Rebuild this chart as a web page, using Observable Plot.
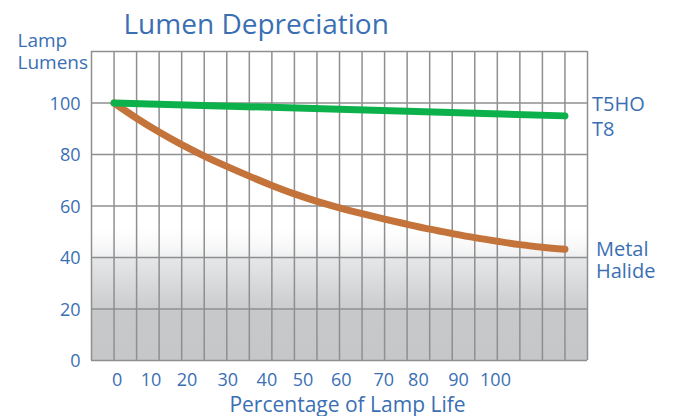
<!DOCTYPE html>
<html>
<head>
<meta charset="utf-8">
<script src="https://cdn.jsdelivr.net/npm/d3@7"></script>
<script src="https://cdn.jsdelivr.net/npm/@observablehq/plot@0.6"></script>
<style>
  html, body { margin: 0; padding: 0; background: #fff; }
  #chart svg { display: block; }
</style>
</head>
<body>
<div id="chart"></div>
<script>
// Percentage of rated lamp life (x) and remaining lumen output (y, % of initial)
const lifePct = [0, 5, 10, 15, 20, 25, 30, 35, 40, 45, 50, 55, 60, 65, 70, 75, 80, 85, 90, 95, 100];
const metalHalide = [100, 94.1, 88.7, 83.8, 79.4, 75.4, 71.6, 68.0, 64.7, 61.8, 59.3, 57.0, 54.9, 52.9, 51.0, 49.3, 47.7, 46.3, 45.0, 44.0, 43.2];

const fluorescentPct = [0, 50, 100];
const fluorescent = [100, 97.6, 95];

// Axis ticks and the labels printed under the x axis
const yTicks = [0, 20, 40, 60, 80, 100];
const xTickAt = [0.7, 8.2, 16.2, 25.2, 33.9, 41.9, 50.4, 59.8, 67.5, 76.4, 84.6];
const xTickText = ["0", "10", "20", "30", "40", "50", "60", "70", "80", "90", "100"];

const seriesNames = ["T5HO\nT8", "Metal\nHalide"];

const blue = "#3a6fb4";
const green = "#0db14b";
const orange = "#c4743b";
const gridColor = "#8f8f8f";

const xDomain = [-5, 105];
const yDomain = [0, 120];
const gridStepX = 5;
const gridStepY = 20;

const mh = lifePct.map((x, i) => ({x, y: metalHalide[i]}));
const fl = fluorescentPct.map((x, i) => ({x, y: fluorescent[i]}));

const chart = Plot.plot({
  width: 675,
  height: 416,
  marginLeft: 91,
  marginRight: 88,
  marginTop: 51,
  marginBottom: 56,
  style: {fontFamily: "'Open Sans', sans-serif", background: "#fff", overflow: "visible"},
  x: {domain: xDomain, axis: null},
  y: {domain: yDomain, axis: null},
  marks: [
    Plot.frame({fill: "url(#shade)", stroke: null}),
    Plot.ruleX(d3.range(xDomain[0], xDomain[1] + 1, gridStepX), {stroke: gridColor, strokeWidth: 1.5}),
    Plot.ruleY(d3.range(yDomain[0], yDomain[1] + 1, gridStepY), {stroke: gridColor, strokeWidth: 1.5}),
    // y tick labels
    Plot.text(yTicks, {
      y: d => d, text: d => String(d), frameAnchor: "left", textAnchor: "end",
      lineAnchor: "bottom", dx: -11, dy: 6.5, fontSize: 18, fill: blue
    }),
    // x tick labels
    Plot.text(xTickAt, {
      x: d => d, text: (d, i) => xTickText[i], frameAnchor: "bottom",
      lineAnchor: "bottom", dy: 25, fontSize: 18, fill: blue
    }),
    // series
    Plot.line(mh, {x: "x", y: "y", stroke: orange, strokeWidth: 7, strokeLinecap: "round", strokeLinejoin: "round", curve: "catmull-rom"}),
    Plot.line(fl, {x: "x", y: "y", stroke: green, strokeWidth: 7, strokeLinecap: "round", strokeLinejoin: "round"}),
    // series labels at the line ends
    Plot.text([fl[fl.length - 1]], {
      x: "x", y: "y", text: () => seriesNames[0], textAnchor: "start",
      dx: 27, dy: -0.2, lineHeight: 1.25, fontSize: 20, fill: blue
    }),
    Plot.text([mh[mh.length - 1]], {
      x: "x", y: "y", text: () => seriesNames[1], textAnchor: "start",
      dx: 31, dy: 10.3, lineHeight: 1.12, fontSize: 20, fill: blue
    }),
    // title and axis titles
    Plot.text(["Lumen Depreciation"], {
      frameAnchor: "top-left", textAnchor: "start", lineAnchor: "bottom",
      dx: 32, dy: -18, fontSize: 28, fill: blue
    }),
    Plot.text(["Lamp\nLumens"], {
      frameAnchor: "top-left", textAnchor: "start", lineAnchor: "bottom",
      dx: -74, dy: 17, lineHeight: 1.12, fontSize: 19, fill: blue
    }),
    Plot.text(["Percentage of Lamp Life"], {
      frameAnchor: "bottom", lineAnchor: "bottom",
      dx: 8, dy: 51, fontSize: 21, fill: blue
    })
  ]
});

// Soft grey fade across the lower part of the plot area
const defs = d3.select(chart).insert("defs", ":first-child");
const grad = defs.append("linearGradient")
  .attr("id", "shade").attr("x1", 0).attr("y1", 0).attr("x2", 0).attr("y2", 1);
[
  [0, "#ffffff"], [0.57, "#ffffff"], [0.63, "#f8f8f9"], [0.665, "#eeeff0"],
  [0.668, "#e6e7e9"], [0.835, "#cbccce"], [0.84, "#c7c8ca"], [1, "#c6c7c9"]
].forEach(([o, c]) => grad.append("stop").attr("offset", o).attr("stop-color", c));

document.getElementById("chart").appendChild(chart);
</script>
</body>
</html>
